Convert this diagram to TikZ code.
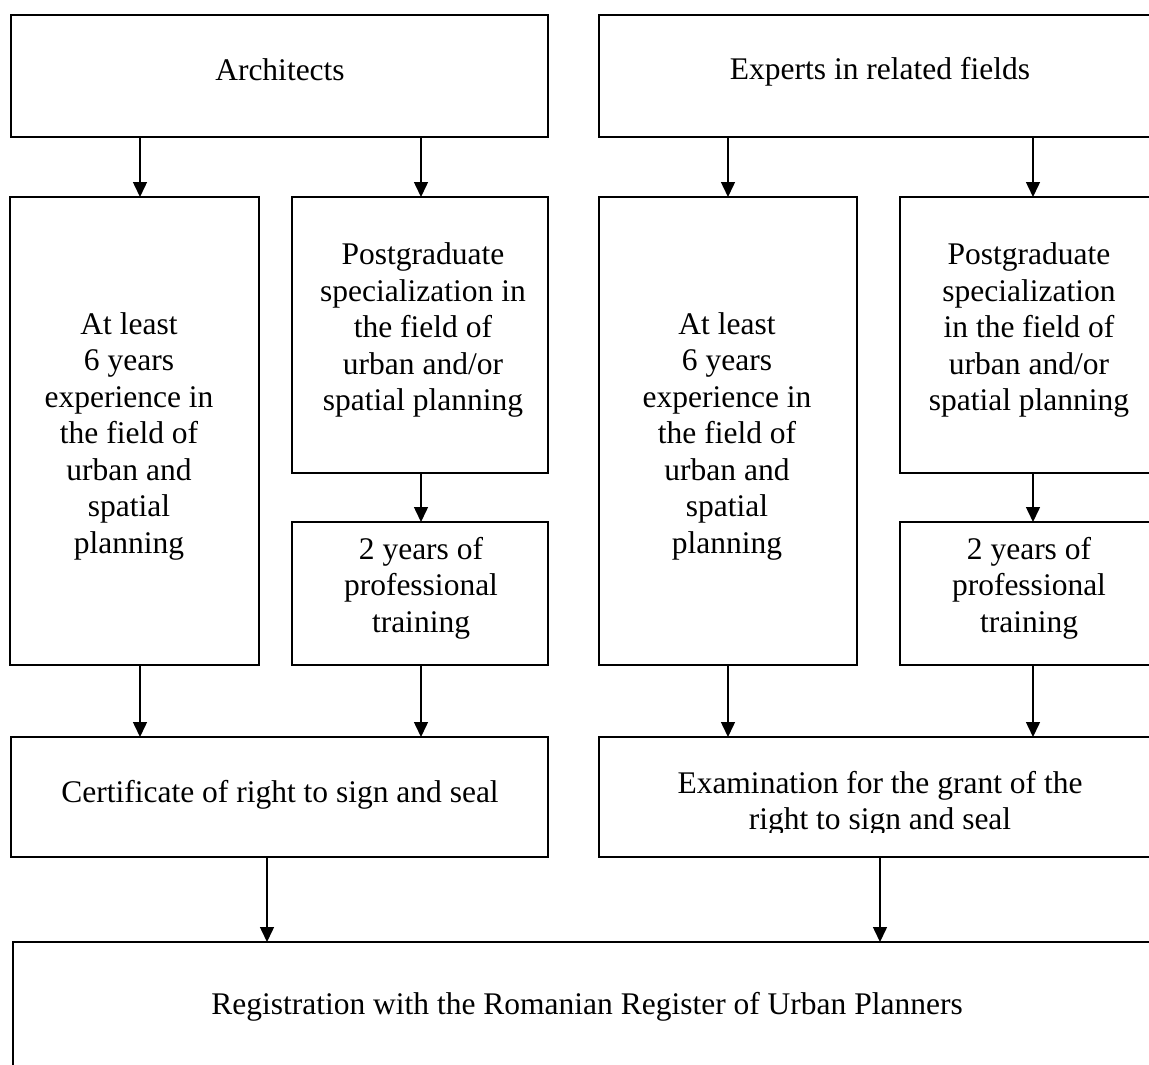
\documentclass[tikz,border=0pt]{standalone}
\usepackage{fontspec}
\setmainfont{Liberation Serif}
\usetikzlibrary{arrows.meta}
\begin{document}
\begin{tikzpicture}[x=1pt,y=-1pt,
  box/.style={draw=black, line width=1.8pt, inner sep=0pt, outer sep=0pt, anchor=north west},
  txt/.style={align=center, inner sep=0pt, font=\fontsize{31.5}{36.5}\selectfont},
  arr/.style={draw=black, line width=1.5pt, -{Triangle[width=14pt,length=15pt]}}]
\useasboundingbox (0,0) rectangle (1149,1065);
\fill[white] (0,0) rectangle (1149,1065);
\clip (0,0) rectangle (1149,1065);

% boxes
\node[box, minimum width=537pt, minimum height=122pt] (arch) at (11,15) {};
\node[box, minimum width=570pt, minimum height=122pt] (expert) at (599,15) {};
\node[box, minimum width=249pt, minimum height=468pt] (a1) at (10,197) {};
\node[box, minimum width=256pt, minimum height=276pt] (a2) at (292,197) {};
\node[box, minimum width=256pt, minimum height=143pt] (a3) at (292,522) {};
\node[box, minimum width=258pt, minimum height=468pt] (e1) at (599,197) {};
\node[box, minimum width=270pt, minimum height=276pt] (e2) at (900,197) {};
\node[box, minimum width=270pt, minimum height=143pt] (e3) at (900,522) {};
\node[box, minimum width=537pt, minimum height=120pt] (cert) at (11,737) {};
\node[box, minimum width=570pt, minimum height=120pt] (exam) at (599,737) {};
\node[box, minimum width=1160pt, minimum height=200pt] (reg) at (13,942) {};

% texts
\node[txt] (archT) at (280,70) {Architects};
\node[txt] (expertT) at (880,72) {Experts in related fields};
\node[txt] (a1T) at (129,436) {At least\\6 years\\experience in\\the field of\\urban and\\spatial\\planning};
\node[txt] (a2T) at (423,330) {Postgraduate\\specialization in\\the field of\\urban and/or\\spatial planning};
\node[txt] (a3T) at (421,588) {2 years of\\professional\\training};
\node[txt] (e1T) at (727,436) {At least\\6 years\\experience in\\the field of\\urban and\\spatial\\planning};
\node[txt] (e2T) at (1029,330) {Postgraduate\\specialization\\in the field of\\urban and/or\\spatial planning};
\node[txt] (e3T) at (1029,588) {2 years of\\professional\\training};
\node[txt] (certT) at (280,795) {Certificate of right to sign and seal};
\begin{scope}
\clip (599,737) rectangle (1149,832);
\node[txt] (examT) at (880,804) {Examination for the grant of the\\right to sign and seal};
\end{scope}
\node[txt] (regT) at (587,1007) {Registration with the Romanian Register of Urban Planners};

% arrow x positions
\coordinate (xa) at (140,0);
\coordinate (xb) at (421,0);
\coordinate (xc) at (728,0);
\coordinate (xd) at (1033,0);
\coordinate (xe) at (267,0);
\coordinate (xf) at (880,0);

\draw[arr] (arch.south -| xa) -- (a1.north -| xa);
\draw[arr] (arch.south -| xb) -- (a2.north -| xb);
\draw[arr] (expert.south -| xc) -- (e1.north -| xc);
\draw[arr] (expert.south -| xd) -- (e2.north -| xd);
\draw[arr] (a2.south -| xb) -- (a3.north -| xb);
\draw[arr] (e2.south -| xd) -- (e3.north -| xd);
\draw[arr] (a1.south -| xa) -- (cert.north -| xa);
\draw[arr] (a3.south -| xb) -- (cert.north -| xb);
\draw[arr] (e1.south -| xc) -- (exam.north -| xc);
\draw[arr] (e3.south -| xd) -- (exam.north -| xd);
\draw[arr] (cert.south -| xe) -- (reg.north -| xe);
\draw[arr] (exam.south -| xf) -- (reg.north -| xf);
\end{tikzpicture}
\end{document}
